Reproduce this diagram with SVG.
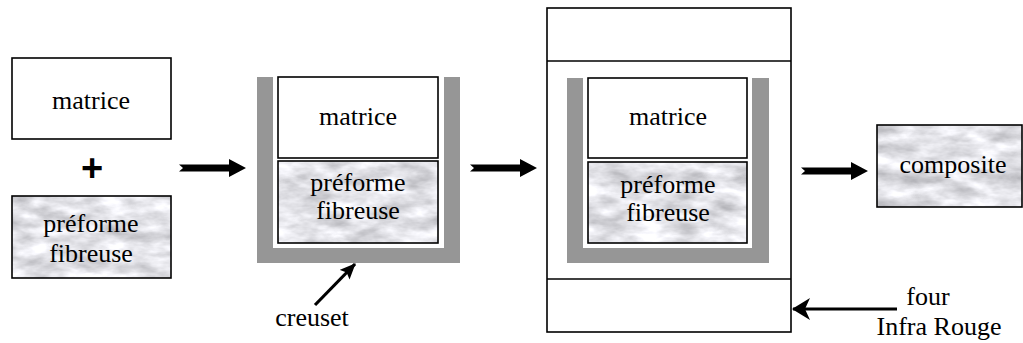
<svg xmlns="http://www.w3.org/2000/svg" width="1023" height="343" viewBox="0 0 1023 343">
<style>
  .box { fill: #ffffff; stroke: #000; stroke-width: 1.6; }
  .frame { fill: none; stroke: #000; stroke-width: 1.6; }
  .gray { fill: #969696; }
  .white { fill: #ffffff; }
  .t { font-family: 'Liberation Serif', 'DejaVu Serif', serif; font-size: 26px; fill: #000; text-anchor: middle; }
  .plus { font-family: 'Liberation Sans', sans-serif; font-weight: bold; font-size: 38px; fill: #000; text-anchor: middle; }
  .ln { stroke: #000; stroke-width: 3.2; fill: none; }
</style>
<defs>
  <filter id="marble" x="0" y="0" width="1" height="1" filterUnits="objectBoundingBox" color-interpolation-filters="sRGB">
    <feTurbulence type="fractalNoise" baseFrequency="0.03 0.07" numOctaves="4" seed="7"/>
    <feColorMatrix type="matrix" values="0.5 0 0 0 0.64  0.5 0 0 0 0.64  0.5 0 0 0 0.66  0 0 0 0 1"/>
  </filter>
  <path id="bigArrow" d="M0,-3.5 L50,-3.5 L50,-9 L67,0 L50,9 L50,3.5 L0,3.5 L4,0 Z" fill="#000"/>
  <marker id="head" viewBox="0 0 16 14" refX="15" refY="7" markerWidth="16" markerHeight="14" markerUnits="userSpaceOnUse" orient="auto">
    <path d="M0,0 L16,7 L0,14 L3,7 Z" fill="#000"/>
  </marker>
  <marker id="headL" viewBox="0 0 18 22" refX="17" refY="11" markerWidth="18" markerHeight="22" markerUnits="userSpaceOnUse" orient="auto">
    <path d="M0,0 L18,11 L0,22 L5,11 Z" fill="#000"/>
  </marker>
</defs>

<!-- Stage 1: separate components -->
<g id="matrice1">
  <rect class="box" x="12" y="58" width="159" height="81"/>
  <text class="t" x="91" y="109">matrice</text>
</g>
<g id="plus">
  <text class="plus" x="92" y="181">+</text>
</g>
<g id="preforme1">
  <rect x="12" y="196" width="159" height="82" filter="url(#marble)"/>
  <rect class="frame" x="12" y="196" width="159" height="82"/>
  <text class="t" x="91" y="232">préforme</text>
  <text class="t" x="91" y="262">fibreuse</text>
</g>

<!-- Stage 2: crucible -->
<g id="creuset1">
  <rect class="gray" x="257" y="77" width="203" height="186"/>
  <rect class="white" x="273" y="77" width="171" height="171"/>
</g>
<g id="matrice2">
  <rect class="box" x="278" y="77" width="160" height="81"/>
  <text class="t" x="358" y="125">matrice</text>
</g>
<g id="preforme2">
  <rect x="278" y="161" width="160" height="82" filter="url(#marble)"/>
  <rect class="frame" x="278" y="161" width="160" height="82"/>
  <text class="t" x="358" y="191">préforme</text>
  <text class="t" x="358" y="219">fibreuse</text>
</g>
<g id="label-creuset">
  <text class="t" x="312" y="326">creuset</text>
</g>

<!-- Stage 3: furnace -->
<g id="four">
  <rect class="frame" x="547" y="8" width="244" height="324"/>
  <line class="frame" x1="547" y1="61" x2="791" y2="61"/>
  <line class="frame" x1="547" y1="279" x2="791" y2="279"/>
</g>
<g id="creuset2">
  <rect class="gray" x="567" y="78" width="202" height="185"/>
  <rect class="white" x="583" y="78" width="169" height="170"/>
</g>
<g id="matrice3">
  <rect class="box" x="588" y="78" width="159" height="80"/>
  <text class="t" x="668" y="125">matrice</text>
</g>
<g id="preforme3">
  <rect x="588" y="162" width="159" height="81" filter="url(#marble)"/>
  <rect class="frame" x="588" y="162" width="159" height="81"/>
  <text class="t" x="668" y="193">préforme</text>
  <text class="t" x="668" y="221">fibreuse</text>
</g>
<g id="label-four">
  <text class="t" x="928" y="305">four</text>
  <text class="t" x="939" y="335">Infra Rouge</text>
</g>

<!-- Stage 4: composite -->
<g id="composite">
  <rect x="877" y="125" width="145" height="82" filter="url(#marble)"/>
  <rect class="frame" x="877" y="125" width="145" height="82"/>
  <text class="t" x="953" y="173">composite</text>
</g>

<!-- Connectors -->
<g id="connectors">
  <use href="#bigArrow" x="179" y="168"/>
  <use href="#bigArrow" x="470" y="168"/>
  <use href="#bigArrow" x="801" y="171"/>
  <line class="ln" x1="315" y1="305" x2="355" y2="264" marker-end="url(#head)"/>
  <line class="ln" x1="897" y1="309" x2="793" y2="309" marker-end="url(#headL)"/>
</g>
</svg>
